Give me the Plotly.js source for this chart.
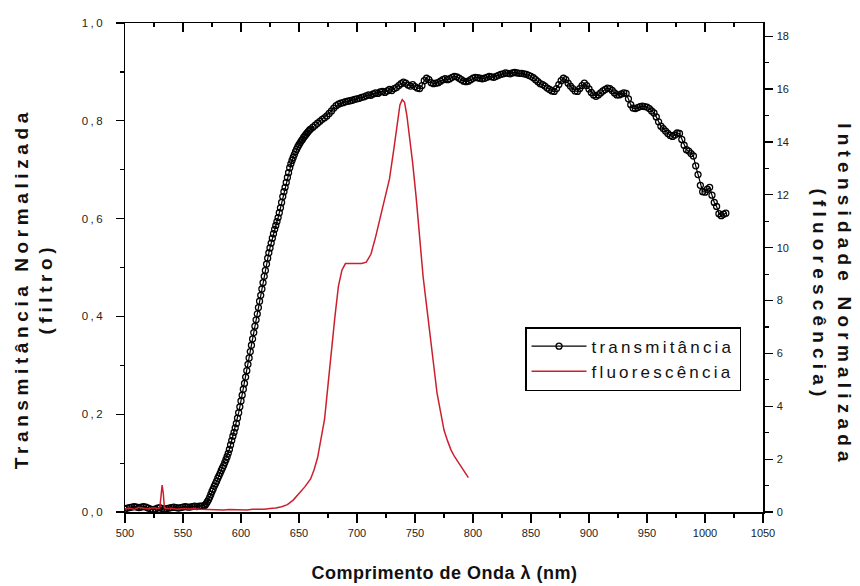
<!DOCTYPE html>
<html><head><meta charset="utf-8">
<script src="https://cdn.plot.ly/plotly-3.0.1.min.js"></script>
<style>
html,body{margin:0;padding:0;background:#fff;}
#chart{width:860px;height:586px;}
.legendtext{letter-spacing:3.2px;}
.ytick text{letter-spacing:2.5px;}
g.annotation[data-index="0"] text{letter-spacing:0.5px;}
g.annotation[data-index="1"] text{letter-spacing:4.6px;}
g.annotation[data-index="2"] text{letter-spacing:5.2px;}
</style></head><body><div id="chart"></div>
<script>
// Transmittance (filter), left axis
const transFlat = [0.006,0.008,0.009,0.010,0.011, 0.010,0.009,0.010,0.011,0.010, 0.008,0.006,0.005,0.006,0.008, 0.009,0.007,0.006,0.007,0.008, 0.009,0.010,0.009,0.008,0.009, 0.010,0.011,0.010,0.010,0.011, 0.012,0.011,0.012,0.012,0.013]; // 500..568 step 2
const transRise = [0.014,0.017,0.021,0.025,0.030,0.036,0.042,0.047,0.053,0.058,
 0.063,0.069,0.074,0.079,0.085,0.090,0.095,0.101,0.107,0.113,
 0.120,0.128,0.137,0.146,0.155,0.163,0.172,0.181,0.192,0.203,
 0.215,0.227,0.239,0.251,0.263,0.276,0.289,0.302,0.315,0.328,
 0.341,0.354,0.367,0.380,0.393,0.405,0.418,0.431,0.443,0.456,
 0.469,0.482,0.494,0.507,0.519,0.530,0.540,0.550,0.560,0.569,
 0.578,0.586,0.594,0.602,0.612,0.622,0.633,0.645,0.655,0.664,
 0.674,0.684,0.694,0.704,0.712,0.719,0.725,0.731,0.737,0.742,
 0.747,0.751,0.755,0.759,0.762,0.766,0.769,0.772,0.775,0.778,
 0.781,0.783]; // 569..660 step 1
const transPlateau = [0.787,0.791,0.795,0.799,0.803,0.806,0.810,0.815,0.820,0.826,
 0.831,0.834,0.836,0.837,0.839,0.840,0.841,0.842,0.844,0.845,
 0.846,0.848,0.849,0.851,0.853,0.852,0.855,0.857,0.856,0.859,
 0.860,0.858,0.861,0.864,0.862,0.866,0.868,0.872,0.876,0.879,
 0.877,0.873,0.871,0.874,0.870,0.867,0.866,0.872,0.882,0.887,
 0.884,0.878,0.876,0.877,0.878,0.881,0.884,0.886,0.884,0.886,
 0.889,0.891,0.890,0.887,0.884,0.881,0.880,0.881,0.884,0.887,
 0.889,0.888,0.887,0.886,0.887,0.889,0.891,0.890,0.889,0.891,
 0.893,0.895,0.896,0.898,0.897,0.896,0.898,0.899,0.898,0.897,
 0.897,0.896,0.895,0.893,0.891,0.888,0.884,0.880,0.876,0.874,
 0.871,0.867,0.864,0.861,0.860,0.866,0.874,0.882,0.887,0.884,
 0.877,0.871,0.866,0.861,0.860,0.866,0.872,0.877,0.872,0.865,
 0.858,0.853,0.850,0.853,0.857,0.861,0.864,0.867,0.866,0.862,
 0.857,0.853,0.853,0.855,0.857,0.856,0.845,0.833,0.826,0.825,
 0.827,0.829,0.830,0.829,0.828,0.825,0.820,0.816,0.808,0.798,
 0.789,0.784,0.779,0.774,0.770,0.768,0.771,0.775,0.774,0.762,
 0.750,0.741,0.738,0.733,0.728,0.708,0.690,0.668,0.655,0.654,
 0.660,0.664,0.648,0.633,0.625,0.610,0.606,0.609,0.611]; // 662..1018 step 2

// Fluorescence, right axis
const waveF = [500,504,508,512,516,520,524,528,530,531,532,533,534,536,540,545,550,555,560,565,570,575,580,585,590,595,600,605,610,615,620,625,630,635,640,645,650,655,660,663,666,669,672,675,678,681,684,687,690,693,696,700,704,708,712,716,720,724,728,732,735,737,739,741,743,745,748,751,754,757,760,763,766,769,772,775,778,781,784,787,790,793,796];
const fluorF = [0.12,0.15,0.10,0.18,0.14,0.12,0.16,0.13,0.15,0.60,1.02,0.70,0.15,0.12,0.14,0.10,0.13,0.11,0.12,0.10,0.09,0.08,0.07,0.08,0.09,0.08,0.07,0.08,0.10,0.09,0.10,0.13,0.15,0.20,0.28,0.45,0.68,0.95,1.25,1.60,2.05,2.75,3.50,4.80,6.20,7.40,8.55,9.15,9.40,9.40,9.38,9.38,9.40,9.45,9.75,10.4,11.1,11.9,12.6,13.8,14.8,15.4,15.6,15.5,15.0,14.3,13.2,11.9,10.4,8.9,7.8,6.8,5.6,4.5,3.8,3.1,2.7,2.35,2.1,1.9,1.7,1.5,1.3];

const xTickVals = [500,550,600,650,700,750,800,850,900,950,1000,1050];
const xTickText = ['500','550','600','650','700','750','800','850','900','950','1000','1050'];
const yTickVals = [0,0.2,0.4,0.6,0.8,1.0];
const yTickText = ['0,0','0,2','0,4','0,6','0,8','1,0'];
const y2TickVals = [0,2,4,6,8,10,12,14,16,18];
const y2TickText = ['0','2','4','6','8','10','12','14','16','18'];

const seriesNames = ['transmitância','fluorescência'];
const xTitle = 'Comprimento de Onda λ (nm)';
const yTitle = 'Transmitância Normalizada<br>(filtro)';
const y2Title = 'Intensidade Normalizada<br>(fluorescência)';

const waveT = [];
transFlat.forEach((v,i)=>waveT.push(500+2*i));
transRise.forEach((v,i)=>waveT.push(569+i));
transPlateau.forEach((v,i)=>waveT.push(662+2*i));
const transT = transFlat.concat(transRise, transPlateau);

const FONT = 'Liberation Sans, Arial, sans-serif';
const RED = '#cc1f2e';

const traces = [
  {x: waveT, y: transT, name: seriesNames[0], type:'scatter', mode:'lines+markers',
   line:{color:'#000', width:1.2}, marker:{symbol:'circle-open', size:6, color:'#000', line:{width:1.3, color:'#000'}}},
  {x: waveF, y: fluorF, name: seriesNames[1], type:'scatter', mode:'lines', yaxis:'y2',
   line:{color:RED, width:1.5}},
  {x: [], y: [], xaxis:'x2', showlegend:false, hoverinfo:'skip', type:'scatter', mode:'lines'}
];

const axCommon = {showline:true, linecolor:'#000', linewidth:1.5, showgrid:false, zeroline:false,
  tickcolor:'#000', tickwidth:1.2, tickfont:{family:FONT, size:11, color:'#222'}};

const layout = {
  width:860, height:586,
  margin:{l:125, r:97, t:23, b:74},
  paper_bgcolor:'#fff', plot_bgcolor:'#fff',
  showlegend:true,
  legend:{x:0.627, y:0.378, xanchor:'left', yanchor:'top', bgcolor:'#fff', bordercolor:'#000', borderwidth:1.5,
    font:{family:FONT, size:17, color:'#111'}, itemwidth:55, tracegroupgap:0},
  xaxis: Object.assign({}, axCommon, {range:[500,1050], tickmode:'array', tickvals:xTickVals, ticktext:xTickText,
    ticks:'outside', ticklen:9, ticklabelstandoff:1,
    minor:{dtick:25, tick0:500, ticks:'outside', ticklen:4, tickcolor:'#000', tickwidth:1.2}}),
  xaxis2: Object.assign({}, axCommon, {overlaying:'x', side:'top', anchor:'y', range:[500,1050], tickmode:'array', tickvals:xTickVals,
    ticks:'inside', ticklen:9, showticklabels:false,
    minor:{dtick:25, tick0:500, ticks:'inside', ticklen:4, tickcolor:'#000', tickwidth:1.2}}),
  yaxis: Object.assign({}, axCommon, {range:[0,1], tickmode:'array', tickvals:yTickVals, ticktext:yTickText,
    ticks:'outside', ticklen:8, ticklabelstandoff:8, tickfont:{family:FONT, size:11.5, color:'#222'},
    minor:{dtick:0.1, tick0:0, ticks:'outside', ticklen:4, tickcolor:'#000', tickwidth:1.2}}),
  yaxis2: Object.assign({}, axCommon, {overlaying:'y', side:'right', anchor:'x', range:[0,18.5], tickmode:'array', tickvals:y2TickVals, ticktext:y2TickText,
    ticks:'outside', ticklen:8, ticklabelstandoff:2,
    minor:{dtick:1, tick0:0, ticks:'outside', ticklen:4, tickcolor:'#000', tickwidth:1.2}}),
  annotations:[
    {text:xTitle, xref:'paper', yref:'paper', x:0.5, y:-0.125, xanchor:'center', yanchor:'middle', showarrow:false,
     font:{family:FONT, size:18, color:'#111', weight:'bold'}},
    {text:yTitle, xref:'paper', yref:'paper', x:-0.144, y:0.457, xanchor:'center', yanchor:'middle', showarrow:false, textangle:-90,
     font:{family:FONT, size:19, color:'#111', weight:'bold'}},
    {text:y2Title, xref:'paper', yref:'paper', x:1.107, y:0.443, xanchor:'center', yanchor:'middle', showarrow:false, textangle:90,
     font:{family:FONT, size:19, color:'#111', weight:'bold'}}
  ]
};

Plotly.newPlot('chart', traces, layout, {displayModeBar:false, staticPlot:true});
</script></body></html>
